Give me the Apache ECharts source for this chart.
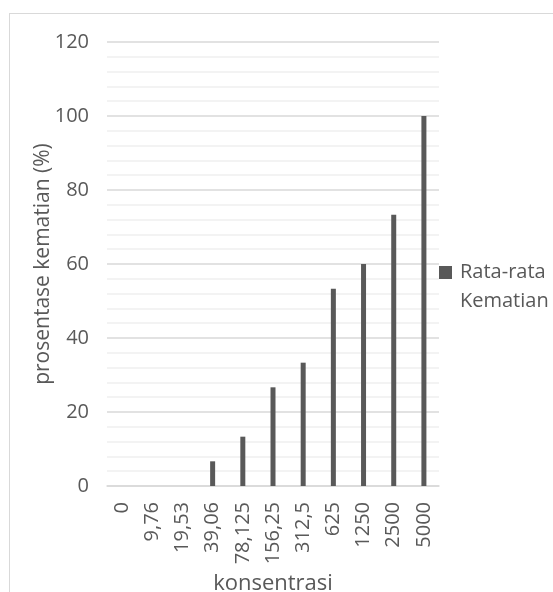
<!DOCTYPE html>
<html><head><meta charset="utf-8">
<script src="https://cdn.jsdelivr.net/npm/echarts@6/dist/echarts.min.js"></script>
<style>
html,body{margin:0;padding:0;background:#fff;}
#c{width:553px;height:592px;position:relative;}
#frame{position:absolute;left:9px;top:13px;width:560px;height:600px;border:1.5px solid #d9d9d9;box-sizing:border-box;pointer-events:none;}
</style></head>
<body><div id="c"></div><div id="frame"></div>
<script>
const categories = ['0','9,76','19,53','39,06','78,125','156,25','312,5','625','1250','2500','5000'];
const seriesName = 'Rata-rata Kematian';
const values = [0,0,0,6.67,13.33,26.67,33.33,53.33,60,73.33,100];
const yTicks = [0,20,40,60,80,100,120];
const txt = '#595959';
const ff = '"Open Sans", "Liberation Sans", sans-serif';
const chart = echarts.init(document.getElementById('c'), null, {renderer:'canvas'});
chart.setOption({
  animation:false,
  backgroundColor:'#fff',
  grid:{left:107, top:42, width:332, height:444, containLabel:false, outerBoundsMode:'none'},
  legend:{
    data:[seriesName], left:439, top:229, orient:'vertical', padding:0,
    icon:'rect', itemWidth:13, itemHeight:13, itemGap:0,
    formatter: () => '{e|}\n{a|Rata-rata}\n{a|Kematian}',
    textStyle:{color:txt, fontSize:20, fontFamily:ff, lineHeight:29,
      rich:{
        e:{fontSize:20, lineHeight:29, fontFamily:ff},
        a:{color:txt, fontSize:20, lineHeight:29, fontFamily:ff, padding:[0,0,0,3]}
      }}
  },
  xAxis:{
    type:'category', data:categories,
    name:'konsentrasi', nameLocation:'middle', nameGap:85,
    nameTextStyle:{color:txt, fontSize:22, fontFamily:ff},
    axisLine:{lineStyle:{color:'#d9d9d9', width:1.5}},
    axisTick:{show:false},
    axisLabel:{rotate:90, color:txt, fontSize:20, fontFamily:ff, margin:16, interval:0}
  },
  yAxis:{
    type:'value', min:yTicks[0], max:yTicks[yTicks.length-1], interval:20,
    name:'prosentase kematian (%)', nameLocation:'middle', nameGap:53, nameMoveOverlap:false,
    nameTextStyle:{color:txt, fontSize:21, fontFamily:ff},
    axisLine:{show:false}, axisTick:{show:false},
    axisLabel:{color:txt, fontSize:20, fontFamily:ff, margin:18},
    splitLine:{lineStyle:{color:'#d9d9d9', width:1.5}},
    minorTick:{show:false, splitNumber:5},
    minorSplitLine:{show:true, lineStyle:{color:'#f0f0f0', width:1.5}}
  },
  series:[{
    name:seriesName, type:'bar', data:values, barWidth:5,
    itemStyle:{color:'#595959'}
  }]
});
</script></body></html>
